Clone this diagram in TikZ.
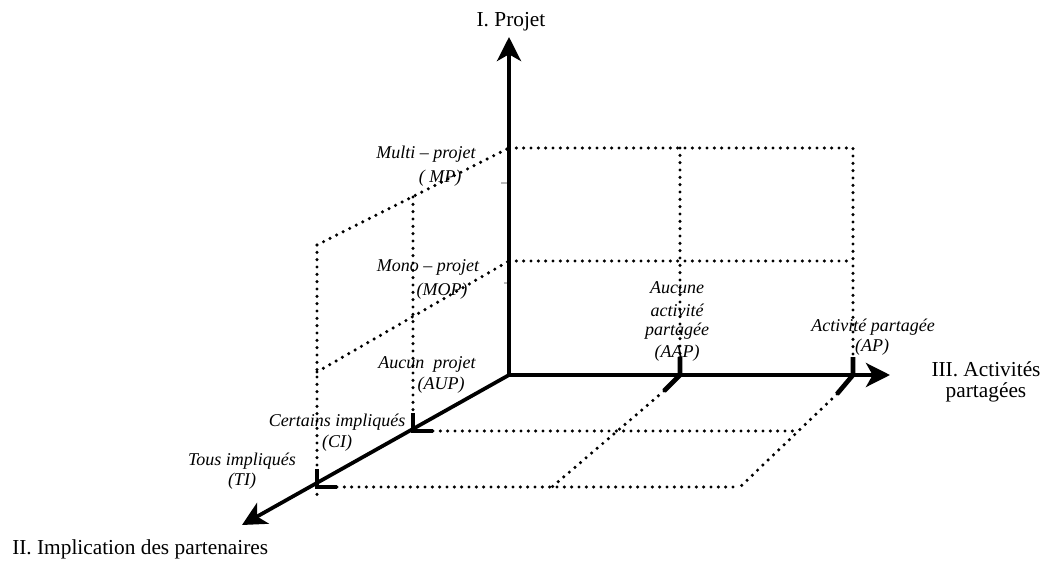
\documentclass[tikz,border=0pt]{standalone}
\usepackage{fontspec}
\setmainfont{Liberation Serif}
\usetikzlibrary{arrows.meta}
\begin{document}
\begin{tikzpicture}[x=0.75pt,y=-0.75pt,
  axisline/.style={line width=3pt,-{Stealth[length=18pt,width=18pt,inset=5pt]}},
  gridline/.style={line width=2.6pt,line cap=round,dash pattern=on 0pt off 5.5pt},
  tickline/.style={line width=3.5pt},
  lbl/.style={font=\fontsize{13.5}{16}\selectfont\itshape,inner sep=0pt},
  axlbl/.style={font=\fontsize{16}{15.5}\selectfont,inner sep=0pt,align=center},
  faint/.style={line width=1.2pt,gray!55}]
\useasboundingbox (0,0) rectangle (1043,567);
% key points
\coordinate (O) at (509,375);
\coordinate (Itip) at (509,37);
\coordinate (IIItip) at (890,375);
\coordinate (IItip) at (242,525);
% back plane (I-III)
\coordinate (B1) at (509,148);
\coordinate (B2) at (853,148);
\coordinate (B3) at (509,261);
\coordinate (B4) at (853,261);
\coordinate (B5) at (680,148);
\coordinate (AAPt) at (680,357);
\coordinate (AAP) at (680,375);
\coordinate (APt) at (853,357);
\coordinate (AP) at (853,375);
% left plane (I-II)
\coordinate (L1) at (317,245);
\coordinate (L2) at (317,372);
\coordinate (L3) at (413,197);
\coordinate (Lbot) at (317,496);
\coordinate (CIt) at (413,413);
\coordinate (CI) at (413,431);
\coordinate (CIh) at (433,431);
\coordinate (TIt) at (317,469);
\coordinate (TI) at (317,487);
\coordinate (TIh) at (337,487);
% floor
\coordinate (F1) at (798,431);
\coordinate (F2) at (740,487);
\coordinate (AAPd) at (664,391);
\coordinate (APd) at (837,394);
\coordinate (F3) at (552,487);
% dotted grid
\draw[gridline] (B1) -- (B2) -- (APt);
\draw[gridline] (B3) -- (B4);
\draw[gridline] (B5) -- (AAPt);
\draw[gridline] (L1) -- (B1);
\draw[gridline] (L2) -- (B3);
\draw[gridline] (L1) -- (Lbot);
\draw[gridline] (L3) -- (CIt);
\draw[gridline] (CIh) -- (F1);
\draw[gridline] (TIh) -- (F2);
\draw[gridline] (AAPd) -- (F3);
\draw[gridline] (APd) -- (F2);
% faint ticks
\draw[faint] (501,183) -- (507,183);
\draw[faint] (504,283) -- (510,283);
% axes
\draw[axisline] (O) -- (Itip);
\draw[axisline] (O) -- (IIItip);
\draw[axisline,line width=2.8pt] (O) -- (IItip);
% solid ticks
\draw[tickline] (CIt) -- (CI) -- (CIh);
\draw[tickline] (TIt) -- (TI) -- (TIh);
\draw[tickline] (AAPt) -- (AAP) -- (AAPd);
\draw[tickline] (APt) -- (AP) -- (APd);
% axis labels
\node[axlbl] (lI) at (511,22) {I. Projet};
\node[axlbl] (lIII) at (986,382) {III. Activités\\partagées};
\node[axlbl,anchor=west] (lII) at (12,549) {II. Implication des partenaires};
% value labels
\node[lbl] (mp1) at (426,154) {Multi – projet};
\node[lbl] (mp2) at (440,178) {( MP)};
\node[lbl] (mop1) at (428,267) {Mono – projet};
\node[lbl] (mop2) at (442,291) {(MOP)};
\node[lbl] (aup1) at (427,364) {Aucun\ \ projet};
\node[lbl] (aup2) at (441,385) {(AUP)};
\node[lbl] (ci1) at (337,422) {Certains impliqués};
\node[lbl] (ci2) at (337,443) {(CI)};
\node[lbl] (ti1) at (242,461) {Tous impliqués};
\node[lbl] (ti2) at (242,481) {(TI)};
\node[lbl] (aap1) at (677,288) {Aucune};
\node[lbl] (aap2) at (677,310) {activité};
\node[lbl] (aap3) at (677,331) {partagée};
\node[lbl] (aap4) at (677,353) {(AAP)};
\node[lbl] (ap1) at (873,327) {Activité partagée};
\node[lbl] (ap2) at (872,347) {(AP)};
\end{tikzpicture}
\end{document}
